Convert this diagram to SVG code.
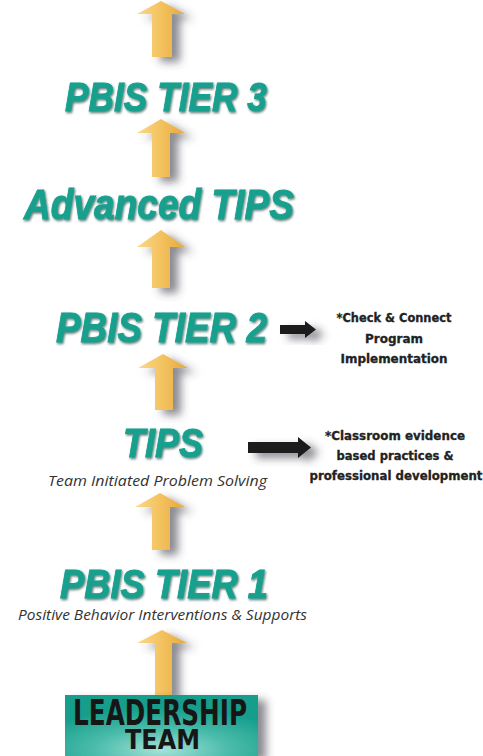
<svg xmlns="http://www.w3.org/2000/svg" width="483" height="756" viewBox="0 0 483 756">
<style>
.title{font-family:"Liberation Sans","DejaVu Sans",sans-serif;font-weight:bold;font-style:italic;fill:#17a08d;stroke:#17a08d;stroke-width:0.9;filter:url(#tshadow)}
.sub{font-family:"Open Sans","Liberation Sans",sans-serif;font-style:italic;fill:#333;font-size:15px}
.note{font-family:"DejaVu Sans Condensed","DejaVu Sans","Liberation Sans",sans-serif;font-stretch:condensed;font-weight:bold;fill:#222;stroke:#222;stroke-width:0.3;font-size:13px;text-anchor:middle}
.lead{font-family:"DejaVu Sans Condensed","Liberation Sans",sans-serif;font-stretch:condensed;font-weight:bold;fill:#161616}
.gold{fill:url(#goldg);filter:url(#ashadow)}
.blk{fill:#1c1c1c;filter:url(#ashadow)}
</style>
<defs>
<linearGradient id="goldg" x1="0" y1="0" x2="1" y2="0">
<stop offset="0" stop-color="#fbd98a"/>
<stop offset="0.5" stop-color="#f3c25e"/>
<stop offset="1" stop-color="#e6a83f"/>
</linearGradient>
<radialGradient id="boxg" cx="0.5" cy="0.9" r="0.7">
<stop offset="0" stop-color="#a5e2d8"/>
<stop offset="0.5" stop-color="#4bbcab"/>
<stop offset="1" stop-color="#169d8b"/>
</radialGradient>
<filter id="ashadow" x="-50%" y="-30%" width="250%" height="170%">
<feDropShadow dx="8" dy="5" stdDeviation="4" flood-color="#3a3a4a" flood-opacity="0.6"/>
</filter>
<filter id="tshadow" x="-10%" y="-20%" width="120%" height="150%">
<feDropShadow dx="1" dy="1.5" stdDeviation="0.8" flood-color="#0a3f38" flood-opacity="0.7"/>
</filter>
</defs>
<rect width="483" height="756" fill="#ffffff"/>
<g id="connectors">
<polygon class="gold" points="161,1 185,14 172,14 172,57 152,57 152,14 137,14"/>
<polygon class="gold" points="161,119 185,133 170,133 170,177 152,177 152,133 137,133"/>
<polygon class="gold" points="161,230 185,247 170,247 170,288 152,288 152,247 137,247"/>
<polygon class="gold" points="163,354 188,368 173,368 173,410 155,410 155,368 138,368"/>
<polygon class="gold" points="160,493 185,507 170,507 170,550 152,550 152,507 135,507"/>
<polygon class="gold" points="162,630 187,643 172,643 172,695 155,695 155,643 137,643"/>
<polygon class="blk" points="280,325 305,325 305,321 316,329.5 305,338 305,334 280,334"/>
<polygon class="blk" points="248,442 298,442 298,437 311,447.5 298,458 298,453 248,453"/>
</g>
<g id="tier3">
<text class="title" x="65" y="111" font-size="40" textLength="202" lengthAdjust="spacingAndGlyphs">PBIS TIER 3</text>
</g>
<g id="advanced-tips">
<text class="title" x="24" y="219" font-size="42" textLength="270" lengthAdjust="spacingAndGlyphs">Advanced TIPS</text>
</g>
<g id="tier2">
<text class="title" x="56" y="342" font-size="42" textLength="211" lengthAdjust="spacingAndGlyphs">PBIS TIER 2</text>
</g>
<g id="tier2-note">
<text class="note" x="394" y="322" textLength="115" lengthAdjust="spacingAndGlyphs">*Check &amp; Connect</text>
<text class="note" x="394" y="343" textLength="58" lengthAdjust="spacingAndGlyphs">Program</text>
<text class="note" x="394" y="363" textLength="107" lengthAdjust="spacingAndGlyphs">Implementation</text>
</g>
<g id="tips">
<text class="title" x="123" y="457" font-size="40" textLength="80" lengthAdjust="spacingAndGlyphs">TIPS</text>
<text class="sub" x="48" y="486" textLength="219" lengthAdjust="spacingAndGlyphs">Team Initiated Problem Solving</text>
</g>
<g id="tips-note">
<text class="note" x="395" y="440" textLength="140" lengthAdjust="spacingAndGlyphs">*Classroom evidence</text>
<text class="note" x="395" y="460" textLength="117" lengthAdjust="spacingAndGlyphs">based practices &amp;</text>
<text class="note" x="396" y="480" textLength="173" lengthAdjust="spacingAndGlyphs">professional development</text>
</g>
<g id="tier1">
<text class="title" x="60" y="598" font-size="40" textLength="208" lengthAdjust="spacingAndGlyphs">PBIS TIER 1</text>
<text class="sub" x="18" y="620" textLength="289" lengthAdjust="spacingAndGlyphs">Positive Behavior Interventions &amp; Supports</text>
</g>
<g id="leadership-team">
<rect x="65" y="695" width="193" height="61" fill="url(#boxg)" filter="url(#ashadow)"/>
<text class="lead" x="73" y="725" font-size="36" textLength="174" lengthAdjust="spacingAndGlyphs">LEADERSHIP</text>
<text class="lead" x="125" y="749" font-size="27" textLength="75" lengthAdjust="spacingAndGlyphs">TEAM</text>
</g>
</svg>
